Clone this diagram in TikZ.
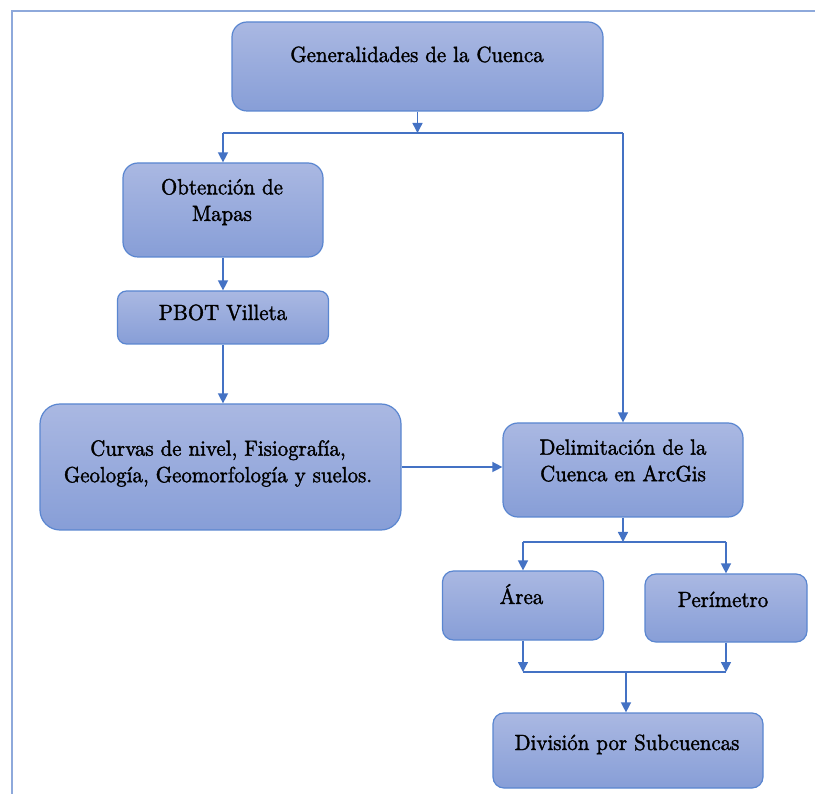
\documentclass[tikz,border=0pt]{standalone}
\usepackage{fontspec}
\newfontfamily\lmb{lmroman10-regular.otf}[FakeBold=1.6,FakeStretch=0.95]
\usetikzlibrary{arrows.meta}
\definecolor{boxtop}{HTML}{AAB8E2}
\definecolor{boxbot}{HTML}{879ED7}
\definecolor{boxline}{HTML}{5A86D0}
\definecolor{connc}{HTML}{4472C4}
\definecolor{framec}{HTML}{8EA9DB}
\begin{document}
\begin{tikzpicture}[x=1pt,y=-1pt,
  box/.style={draw=boxline, line width=1.2pt, top color=boxtop, bottom color=boxbot, inner sep=0pt},
  txt/.style={font=\lmb\fontsize{22}{26.5}\selectfont, align=center, inner sep=0pt, text=black},
  conn/.style={draw=connc, line width=1.4pt},
  arr/.style={conn, -{Triangle[length=10pt,width=10pt]}}]
\useasboundingbox (0,0) rectangle (815,794);
\draw[framec, line width=1.5pt] (12,794) -- (12,11) -- (815,11);

% boxes
\node[box, rounded corners=15pt, minimum width=371pt, minimum height=89pt] (gen) at (417.5,66.5) {};
\node[box, rounded corners=15pt, minimum width=200pt, minimum height=94pt] (obt) at (223,210) {};
\node[box, rounded corners=9pt, minimum width=211pt, minimum height=53pt] (pbot) at (223,317.5) {};
\node[box, rounded corners=20pt, minimum width=361pt, minimum height=126pt] (cur) at (220.5,467) {};
\node[box, rounded corners=15pt, minimum width=240pt, minimum height=94pt] (del) at (623,470) {};
\node[box, rounded corners=11pt, minimum width=161pt, minimum height=69pt] (are) at (523,605.5) {};
\node[box, rounded corners=11pt, minimum width=162pt, minimum height=68pt] (per) at (726,608) {};
\node[box, rounded corners=11pt, minimum width=270pt, minimum height=75pt] (div) at (628,750.5) {};

% texts
\node[txt, anchor=base] (gent) at (417,62) {Generalidades de la Cuenca};
\node[txt] (obtt) at (222,202) {Obtención de\\Mapas};
\node[txt, anchor=base] (pbott) at (223,320) {PBOT Villeta};
\node[txt] (curt) at (218,463.5) {Curvas de nivel, Fisiografía,\\Geología, Geomorfología y suelos.};
\node[txt] (delt) at (623,460.5) {Delimitación de la\\Cuenca en ArcGis};
\node[txt, anchor=base] (aret) at (521.5,604) {Área};
\node[txt, anchor=base] (pert) at (723,607) {Perímetro};
\node[txt, anchor=base] (divt) at (627,750) {División por Subcuencas};

% connectors
\coordinate (s1) at (417,133);
\draw[arr] (gen.south) -- (gen.south |- s1);
\draw[conn] (s1 -| obt.north) -- (s1 -| del.north);
\draw[arr] (s1 -| obt.north) -- (obt.north);
\draw[arr] (s1 -| del.north) -- (del.north);
\draw[arr] (obt.south) -- (obt.south |- pbot.north);
\draw[arr] (pbot.south) -- (pbot.south |- cur.north);
\draw[arr] (cur.east) -- (cur.east -| del.west);
\coordinate (s2) at (623,542);
\draw[arr] (del.south) -- (del.south |- s2);
\draw[conn] (s2 -| are.north) -- (s2 -| per.north);
\draw[arr] (s2 -| are.north) -- (are.north);
\draw[arr] (s2 -| per.north) -- (per.north);
\coordinate (s3) at (626,672);
\draw[arr] (are.south) -- (are.south |- s3);
\draw[arr] (per.south) -- (per.south |- s3);
\draw[conn] (s3 -| are.south) -- (s3 -| per.south);
\draw[arr] (s3) -- (s3 |- div.north);
\end{tikzpicture}
\end{document}
